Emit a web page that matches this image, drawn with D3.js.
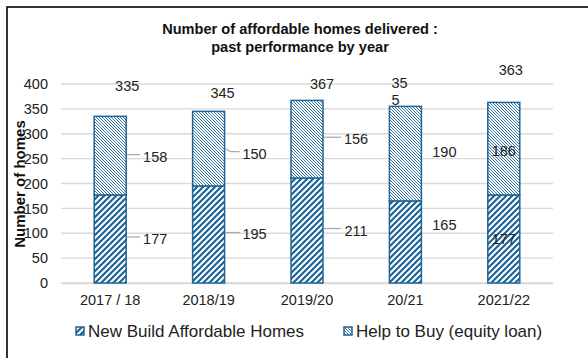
<!DOCTYPE html>
<html>
<head>
<meta charset="utf-8">
<script src="https://cdn.jsdelivr.net/npm/d3@7"></script>
<style>
  html, body { margin: 0; padding: 0; background: #fff; }
  svg { display: block; font-family: "Liberation Sans", Arial, sans-serif; }
</style>
</head>
<body>
<svg id="chart" width="588" height="358"></svg>
<script>
// Affordable homes delivered per year, split by delivery route
const years = ["2017 / 18", "2018/19", "2019/20", "20/21", "2021/22"];
const newBuild = [177, 195, 211, 165, 177];
const helpToBuy = [158, 150, 156, 190, 186];
const totals = [335, 345, 367, 355, 363];
const yTicks = [0, 50, 100, 150, 200, 250, 300, 350, 400];
const seriesNames = ["New Build Affordable Homes", "Help to Buy (equity loan)"];

// Hand-placed label offsets (pixels, relative to bar centre / segment middle)
const segLabelDx = [45, 46, 49, 39, 0];
const nbLabelDy = [0, 0, 0, -17, 0];
const htbLabelDy = [1, 5, 0, -2, 2];
const hasLeader = [true, true, true, false, false];
const totalDx = [17, 14, 15, -14, 7];
const totalDy = [-30, -18, -16, -23, -32];
const totalWrap = [0, 0, 0, 2, 0];

const blue = "#1e6497";
const svg = d3.select("#chart");

// patterns
const defs = svg.append("defs");
const pNB = defs.append("pattern").attr("id", "pNB").attr("patternUnits", "userSpaceOnUse")
  .attr("width", 6).attr("height", 6);
pNB.append("rect").attr("width", 6).attr("height", 6).attr("fill", "#fff");
pNB.append("path").attr("d", "M-1,7 L7,-1 M-4,4 L4,-4 M2,10 L10,2")
  .attr("stroke", blue).attr("stroke-width", 2.2);
const pHB = defs.append("pattern").attr("id", "pHB").attr("patternUnits", "userSpaceOnUse")
  .attr("width", 3).attr("height", 3);
pHB.append("rect").attr("width", 3).attr("height", 3).attr("fill", "#fff");
pHB.append("path").attr("d", "M-1,-1 L4,4 M-1,2 L1,4 M2,-1 L4,1")
  .attr("stroke", blue).attr("stroke-width", 0.9);

// outer frame
svg.append("rect").attr("x", 7).attr("y", 7).attr("width", 620).attr("height", 400)
  .attr("fill", "none").attr("stroke", "#000").attr("stroke-width", 1.6);

const x = d3.scaleBand().domain(years).range([61, 553]).paddingInner(0.675).paddingOuter(0.3375);
const y = d3.scaleLinear().domain([0, 400]).range([283, 84]);

// title
const title = svg.append("text").attr("x", 300).attr("text-anchor", "middle")
  .attr("font-weight", "bold").attr("font-size", 14.6).attr("fill", "#111");
title.append("tspan").attr("x", 300).attr("y", 34).text("Number of affordable homes delivered :");
title.append("tspan").attr("x", 300).attr("y", 52).text("past performance by year");

// gridlines
svg.append("g").selectAll("line").data(yTicks).join("line")
  .attr("x1", 61).attr("x2", 553).attr("y1", d => y(d)).attr("y2", d => y(d))
  .attr("stroke", "#d9d9d9").attr("stroke-width", 1.3);

// y axis labels
const yAxis = svg.append("g").attr("transform", "translate(52,0)")
  .call(d3.axisLeft(y).tickValues(yTicks).tickSize(0).tickPadding(4));
yAxis.select(".domain").remove();
yAxis.selectAll("text").attr("font-size", 14.5).attr("fill", "#222")
  .attr("font-family", "Liberation Sans, Arial, sans-serif");

// x axis labels
const xAxis = svg.append("g").attr("transform", "translate(0,283)")
  .call(d3.axisBottom(x).tickSize(0).tickPadding(12));
xAxis.select(".domain").attr("stroke", "#d9d9d9").attr("stroke-width", 1.3);
xAxis.selectAll("text").attr("font-size", 14.5).attr("fill", "#222")
  .attr("font-family", "Liberation Sans, Arial, sans-serif");

// y axis title
svg.append("text").attr("transform", "translate(25,184) rotate(-90)")
  .attr("text-anchor", "middle").attr("font-weight", "bold").attr("font-size", 15)
  .attr("fill", "#111").text("Number of homes");

// stacked bars
const rows = years.map((yr, i) => ({ yr, i, nb: newBuild[i], hb: helpToBuy[i] }));
const bars = svg.append("g");
bars.selectAll("rect.nb").data(rows).join("rect").attr("class", "nb")
  .attr("x", d => x(d.yr)).attr("width", x.bandwidth())
  .attr("y", d => y(d.nb)).attr("height", d => y(0) - y(d.nb))
  .attr("fill", "url(#pNB)").attr("stroke", blue).attr("stroke-width", 1.5);
bars.selectAll("rect.hb").data(rows).join("rect").attr("class", "hb")
  .attr("x", d => x(d.yr)).attr("width", x.bandwidth())
  .attr("y", d => y(d.nb + d.hb)).attr("height", d => y(d.nb) - y(d.nb + d.hb))
  .attr("fill", "url(#pHB)").attr("stroke", blue).attr("stroke-width", 1.5);

// segment value labels
const segs = [];
rows.forEach(d => {
  const cx = x(d.yr) + x.bandwidth() / 2;
  segs.push({ i: d.i, v: d.nb, cx, cy: y(d.nb / 2) + nbLabelDy[d.i], base: y(d.nb / 2) });
  segs.push({ i: d.i, v: d.hb, cx, cy: y(d.nb + d.hb / 2) + htbLabelDy[d.i], base: y(d.nb + d.hb / 2) });
});
const lab = svg.append("g");
// leader lines start at the segment middle and step to the moved label
lab.selectAll("path").data(segs.filter(s => hasLeader[s.i])).join("path")
  .attr("d", s => {
    const x0 = x(years[s.i]) + x.bandwidth() + 1;
    const x1 = s.cx + segLabelDx[s.i] - 15;
    const yL = s.cy - 2;
    const yS = Math.min(s.base, yL);
    return yL - yS > 2
      ? `M${x0},${yS} L${x0 + 5},${yL} L${x1},${yL}`
      : `M${x0},${yL} L${x1},${yL}`;
  })
  .attr("fill", "none").attr("stroke", "#a6a6a6").attr("stroke-width", 1.2);
lab.selectAll("text").data(segs).join("text")
  .attr("x", s => s.cx + segLabelDx[s.i]).attr("y", s => s.cy + 5)
  .attr("text-anchor", "middle").attr("font-size", 14.5).attr("fill", "#222")
  .text(s => s.v);

// totals
const tot = svg.append("g");
totals.forEach((v, i) => {
  const cx = x(years[i]) + x.bandwidth() / 2 + totalDx[i];
  const cy = y(v) + totalDy[i];
  const t = tot.append("text").attr("font-size", 14.5).attr("fill", "#222");
  if (totalWrap[i]) {
    const s = String(v);
    t.attr("text-anchor", "start");
    t.append("tspan").attr("x", cx).attr("y", cy + 5).text(s.slice(0, totalWrap[i]));
    t.append("tspan").attr("x", cx).attr("y", cy + 22).text(s.slice(totalWrap[i]));
  } else {
    t.attr("text-anchor", "middle").attr("x", cx).attr("y", cy + 5).text(v);
  }
});

// legend
const legend = svg.append("g").attr("transform", "translate(0,331)");
const legItems = [
  { name: seriesNames[0], fill: "url(#pNB)", x: 76 },
  { name: seriesNames[1], fill: "url(#pHB)", x: 344 }
];
legItems.forEach(it => {
  legend.append("rect").attr("x", it.x).attr("y", -4).attr("width", 8).attr("height", 8)
    .attr("fill", it.fill).attr("stroke", blue).attr("stroke-width", 1.5);
  legend.append("text").attr("x", it.x + 12).attr("y", 6).attr("font-size", 17)
    .attr("fill", "#222").text(it.name);
});
</script>
</body>
</html>
